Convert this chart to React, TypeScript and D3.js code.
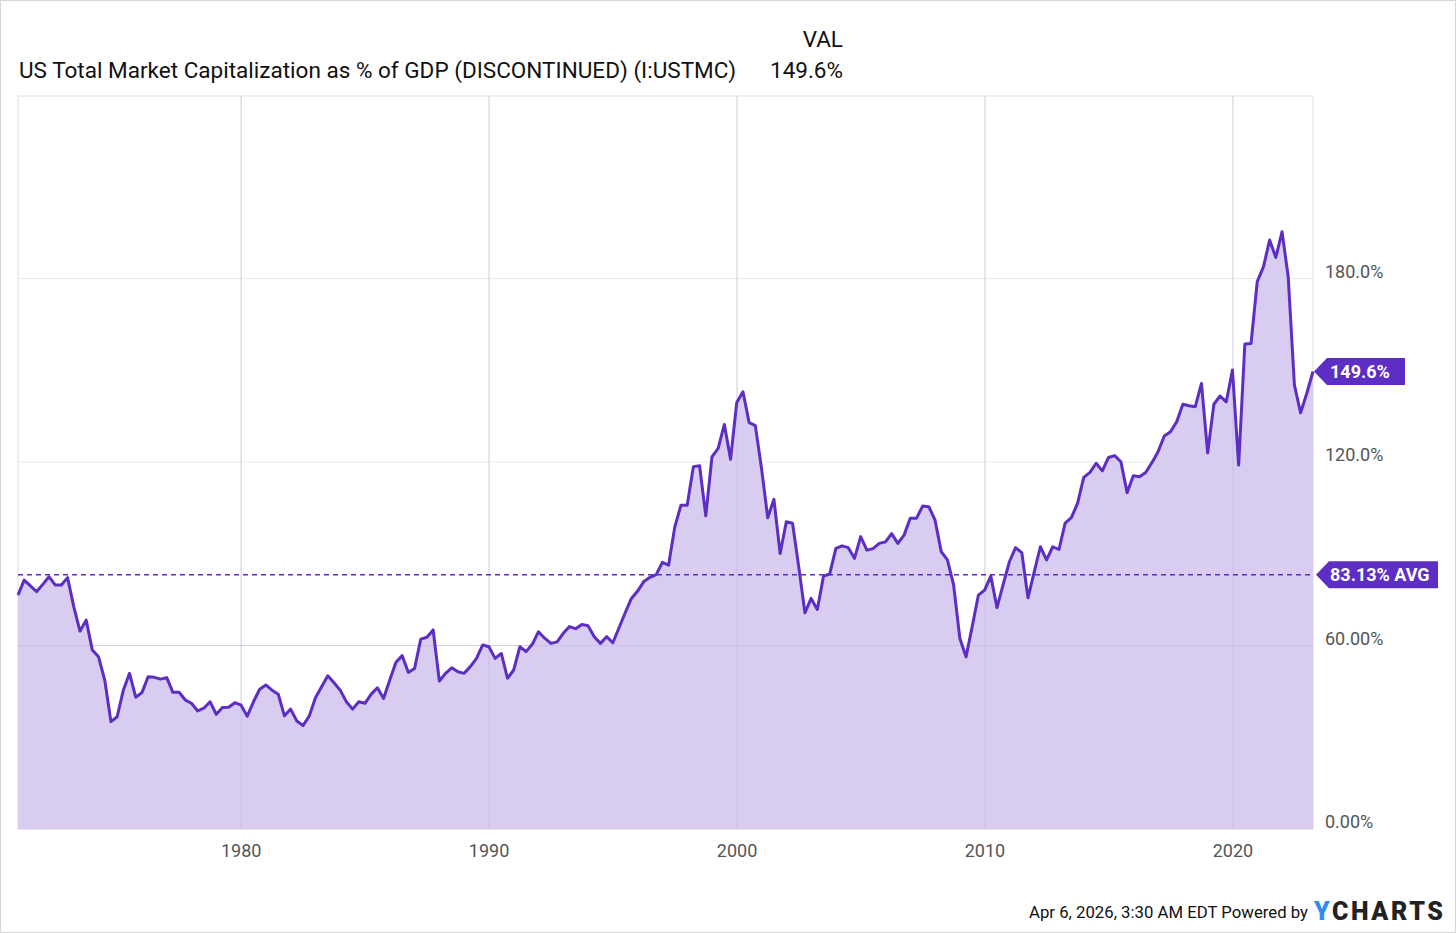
import React from "react";
import * as d3 from "d3";

const startYear = 1971;
const endYear = 2023.23;
const values: number[] = [
  76.5,81.4,79.5,77.6,80.0,82.5,79.8,79.8,82.2,72.7,64.7,68.3,58.5,56.3,48.7,35.1,36.7,45.4,50.9,43.1,44.6,49.8,
  49.6,49.0,49.5,44.7,44.7,42.2,41.1,38.6,39.5,41.6,37.5,39.7,39.8,41.3,40.5,36.9,41.6,45.7,47.1,45.4,
  44.1,37.0,39.2,35.3,33.8,36.9,42.9,46.5,50.1,47.8,45.4,41.6,39.2,41.6,41.1,44.1,46.2,42.7,48.7,54.5,
  56.7,51.2,52.5,62.1,62.7,65.1,48.4,50.9,52.7,51.4,50.9,53.1,55.8,60.2,59.6,55.8,
  57.4,49.3,52.0,59.6,58.0,60.4,64.5,62.4,60.7,61.2,64.0,66.2,65.5,66.9,66.5,62.9,60.7,62.9,60.9,65.8,
  70.7,75.4,77.8,80.9,82.3,83.2,87.2,86.3,98.8,105.9,105.9,118.5,118.8,102.4,121.7,124.5,132.3,120.9,139.5,143.0,
  132.9,131.9,117.9,101.8,107.8,90.1,100.5,100.0,85.8,70.7,75.4,71.8,82.7,83.4,91.8,92.6,92.0,88.5,95.6,91.2,
  91.7,93.4,93.9,96.6,93.4,96.1,101.6,101.6,105.6,105.4,101.0,90.7,88.0,79.8,62.4,56.3,66.2,76.5,
  78.1,82.7,72.4,80.0,87.4,92.0,90.4,75.6,84.0,92.3,88.0,92.3,91.4,100.0,101.8,106.5,115.0,116.6,119.6,117.1,
  121.5,122.1,120.1,110.0,115.5,115.2,116.6,119.8,123.4,128.5,129.9,133.2,138.9,138.4,138.1,145.7,123.0,138.9,141.6,139.7,
  150.1,119.0,158.6,158.8,179.0,183.8,192.6,186.9,195.3,180.6,145.2,136.1,142.5,149.6,
];
const yTicks = [0, 60, 120, 180];
const xTicks = [1980, 1990, 2000, 2010, 2020];
const average = 83.13;
const lastValue = 149.6;
const title = "US Total Market Capitalization as % of GDP (DISCONTINUED) (I:USTMC)";

const step = (endYear - startYear) / (values.length - 1);
const data = values.map((v, i) => ({ t: startYear + i * step, v }));

export default function App() {
  const W = 1456, H = 933;
  const L = 18, R = 1313, T = 96, B = 829;
  const x = d3.scaleLinear().domain([startYear, endYear]).range([L, R]);
  const y = d3.scaleLinear().domain([0, 239.7]).range([B, T]);
  const line = d3.line<any>().x(d => x(d.t)).y(d => y(d.v));
  const area = d3.area<any>().x(d => x(d.t)).y0(B).y1(d => y(d.v));
  const purple = "#5c2ec4";
  const font = "Roboto, sans-serif";
  const yl = y(lastValue), ya = y(average);
  return (
    <svg width={W} height={H} style={{ position: "absolute", left: 0, top: 0 }} fontFamily={font}>
      <rect x={0.5} y={0.5} width={W - 1} height={H - 1} fill="#fff" stroke="#d6d6d6" />
      <text x={843} y={47} textAnchor="end" fontSize={22.5} fill="#111">VAL</text>
      <text x={19} y={78} fontSize={22.5} fill="#111" textLength={717} lengthAdjust="spacingAndGlyphs">{title}</text>
      <text x={843} y={78} textAnchor="end" fontSize={22.5} fill="#111">149.6%</text>
      {yTicks.map(t => (
        <g key={t}>
          <line x1={L} x2={R} y1={y(t)} y2={y(t)} stroke="#e8e8e8" />
          <text x={1325} y={y(t) - 1} fontSize={18} fill="#555">{t.toFixed(t === 0 || t === 60 ? 2 : 1)}%</text>
        </g>
      ))}
      {xTicks.map(t => (
        <g key={t}>
          <line x1={x(t)} x2={x(t)} y1={T} y2={B} stroke="#e8e8e8" />
          <text x={x(t)} y={857} textAnchor="middle" fontSize={18} fill="#555">{t}</text>
        </g>
      ))}
      <rect x={L} y={T} width={R - L} height={B - T} fill="none" stroke="#e0e0e0" />
      <path d={area(data) || ""} fill="#d8ccf0" />
      {xTicks.map(t => (
        <line key={"g" + t} x1={x(t)} x2={x(t)} y1={T} y2={B} stroke="#c4b6e2" strokeOpacity={0.5} />
      ))}
      <line x1={L} x2={R} y1={y(60)} y2={y(60)} stroke="#c4b6e2" strokeOpacity={0.5} />
      <path d={line(data) || ""} fill="none" stroke={purple} strokeWidth={3} strokeLinejoin="round" />
      <line x1={L} x2={R} y1={ya} y2={ya} stroke={purple} strokeWidth={1.5} strokeDasharray="5,4" />
      <path d={`M1314,${yl} L1327,${yl - 13.5} H1405 V${yl + 13.5} H1327 Z`} fill={purple} />
      <text x={1330} y={yl + 6.5} fontSize={18} fontWeight="bold" fill="#fff">149.6%</text>
      <path d={`M1316,${ya} L1329,${ya - 13.5} H1438 V${ya + 13.5} H1329 Z`} fill={purple} />
      <text x={1330} y={ya + 6.5} fontSize={18} fontWeight="bold" fill="#fff">83.13% AVG</text>
      <text x={1308} y={918} textAnchor="end" fontSize={17} fill="#111" textLength={279} lengthAdjust="spacingAndGlyphs">Apr 6, 2026, 3:30 AM EDT Powered by</text>
      <text x={1314} y={920} fontSize={25} fontWeight="900" fill="#222" textLength={129} lengthAdjust="spacing">
        <tspan fill="#2f8cf0">Y</tspan>CHARTS
      </text>
    </svg>
  );
}
